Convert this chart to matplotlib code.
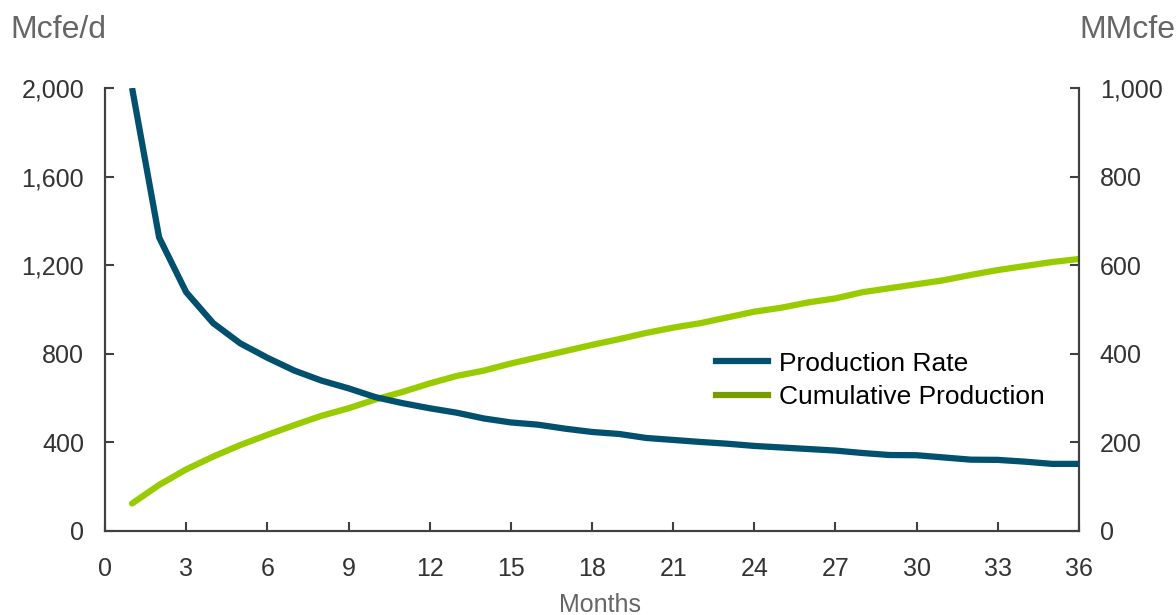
import matplotlib
matplotlib.use("Agg")
import matplotlib.pyplot as plt
from matplotlib.lines import Line2D

plt.rcParams['font.family'] = ['Liberation Sans', 'DejaVu Sans']

months = list(range(1, 37))
rate = [2000, 1325, 1078, 938, 847, 782, 724, 679, 644, 604, 577, 554,
        534, 508, 490, 480, 462, 447, 438, 420, 411, 402, 394, 384,
        377, 370, 363, 352, 343, 342, 332, 322, 321, 313, 303, 303]
cumulative = [62, 104, 139, 168, 194, 217, 239, 260, 277, 297, 314, 333,
              350, 362, 378, 392, 406, 420, 433, 447, 459, 469, 482, 495,
              504, 516, 525, 539, 548, 557, 566, 578, 589, 598, 607, 614]
xticks = list(range(0, 37, 3))
left_ticks = [0, 400, 800, 1200, 1600, 2000]
right_ticks = [0, 200, 400, 600, 800, 1000]

blue = "#00506E"
green = "#99CC00"
title_gray = "#666666"
label_gray = "#333333"
spine = "#404040"

fig = plt.figure(figsize=(11.76, 6.15), dpi=100)
ax = fig.add_axes([0.0893, 0.1366, 0.8282, 0.7204])
ax2 = ax.twinx()

ax.plot(months, rate, color=blue, lw=4.5, solid_capstyle="butt", zorder=3)
ax2.plot(months, cumulative, color=green, lw=4.5, solid_capstyle="round")

ax.set_xlim(0, 36)
ax.set_ylim(0, 2000)
ax2.set_ylim(0, 1000)
ax.set_xticks(xticks)
ax.set_yticks(left_ticks)
ax.set_yticklabels([f"{v:,}" for v in left_ticks])
ax2.set_yticks(right_ticks)
ax2.set_yticklabels([f"{v:,}" for v in right_ticks])

for a in (ax, ax2):
    a.spines["top"].set_visible(False)
    for s in ("left", "right", "bottom"):
        a.spines[s].set_color(spine)
        a.spines[s].set_linewidth(1.5)
    a.tick_params(direction="in", length=6.5, width=1.5, color=spine,
                  labelsize=18, labelcolor=label_gray, pad=15)
ax.tick_params(axis="x", pad=19)

ax.set_zorder(ax2.get_zorder() + 1)
ax.patch.set_visible(False)

fig.text(0.009, 0.951, "Mcfe/d", fontsize=23, color=title_gray, va="center", ha="left")
fig.text(0.918, 0.951, "MMcfe", fontsize=23, color=title_gray, va="center", ha="left")
fig.text(0.5105, 0.017, "Months", fontsize=18, color=title_gray, va="center", ha="center")

handles = [Line2D([], [], color=blue, lw=4.5),
           Line2D([], [], color="#7A9A01", lw=4.5)]
ax.legend(handles, ["Production Rate", "Cumulative Production"],
          loc="upper left", bbox_to_anchor=(0.627, 0.405), frameon=False,
          fontsize=19, handlelength=2.0, handletextpad=0.4, labelspacing=0.35,
          borderaxespad=0, borderpad=0)

fig.savefig("out.png", dpi=100)
